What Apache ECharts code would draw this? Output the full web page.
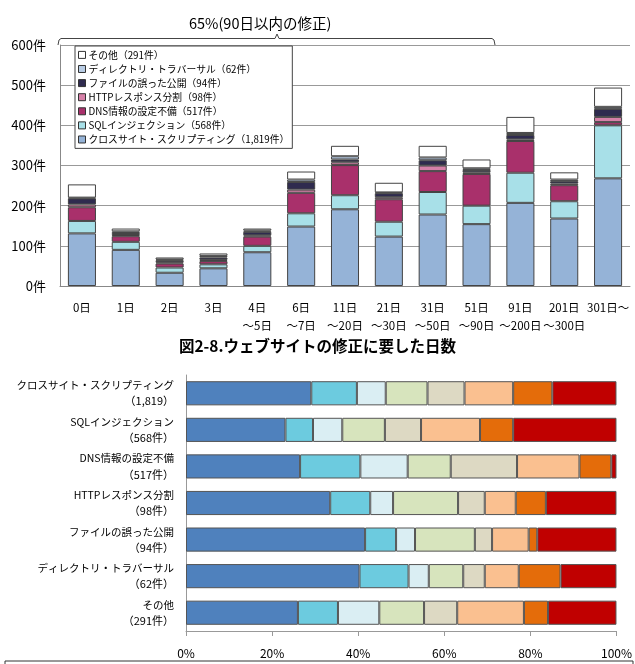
<!DOCTYPE html>
<html lang="ja">
<head>
    <meta charset="UTF-8">
    <title>ウェブサイトの修正に要した日数</title>
    <script src="https://cdn.jsdelivr.net/npm/echarts@6/dist/echarts.min.js"></script>
    <style>
        html,body{margin:0;padding:0;background:#fff;}
        #main{width:635px;height:664px;}
    </style>
</head>
<body>
<div id="main"></div>
<script>
    // 上のグラフ: 修正日数ごとの件数
    var days = ['0日','1日','2日','3日','4日\n～5日','6日\n～7日','11日\n～20日','21日\n～30日','31日\n～50日','51日\n～90日','91日\n～200日','201日\n～300日','301日～'];
    var xss   = [131,90,33,44,84,148,191,123,178,154,207,168,268];
    var sqli  = [31,20,13,10,16,33,35,37,56,46,75,43,132];
    var dns   = [34,14,10,8,23,51,75,56,52,79,79,40,8];
    var http  = [7,3,3,3,3,8,7,5,14,4,4,4,13];
    var file  = [15,5,5,6,9,19,7,10,13,6,11,6,20];
    var dir   = [2,4,2,4,3,6,8,2,7,4,5,4,5];
    var other = [33,7,5,6,5,20,26,24,29,22,40,18,48];
    var topNames = ['クロスサイト・スクリプティング（1,819件）','SQLインジェクション（568件）','DNS情報の設定不備（517件）','HTTPレスポンス分割（98件）','ファイルの誤った公開（94件）','ディレクトリ・トラバーサル（62件）','その他（291件）'];
    var topColors = ['#95b3d7','#a8e0e8','#a9306b','#d680a8','#2f2b4f','#b9cde5','#ffffff'];

    // 下のグラフ: 脆弱性の種類ごとの割合
    var typeNames = ['クロスサイト・スクリプティング','SQLインジェクション','DNS情報の設定不備','HTTPレスポンス分割','ファイルの誤った公開','ディレクトリ・トラバーサル','その他'];
    var typeCounts = ['（1,819）','（568件）','（517件）','（98件）','（94件）','（62件）','（291件）'];
    var seg1 = [29.1,23.1,26.5,33.5,41.6,40.3,26.0];
    var seg2 = [10.6,6.4,14.0,9.3,7.2,11.4,9.3];
    var seg3 = [6.7,6.8,11.0,5.3,4.4,4.7,9.6];
    var seg4 = [9.7,9.9,10.0,15.1,13.9,8.0,10.4];
    var seg5 = [8.6,8.4,15.4,6.2,4.0,5.0,7.7];
    var seg6 = [11.3,13.7,14.5,7.2,8.5,7.9,15.5];
    var seg7 = [9.1,7.7,7.4,7.0,2.0,9.7,5.6];
    var seg8 = [14.9,24.0,1.2,16.4,18.4,13.0,15.9];
    var segNames = ['区分1','区分2','区分3','区分4','区分5','区分6','区分7','区分8'];
    var segColors = ['#4f81bd','#6ccbdf','#daeef3','#d7e4bd','#ddd9c3','#fac090','#e46c0a','#c00000'];

    var font = '"Noto Sans CJK JP", sans-serif';
    var chart = echarts.init(document.getElementById('main'));

    var topData = [xss, sqli, dns, http, file, dir, other];
    var segData = [seg1, seg2, seg3, seg4, seg5, seg6, seg7, seg8];
    var series = [];
    topData.forEach(function(d, i){
        series.push({
            name: topNames[i],
            type: 'bar',
            stack: 'days',
            xAxisIndex: 0,
            yAxisIndex: 0,
            barWidth: '64%',
            data: d,
            itemStyle: {color: topColors[i], borderColor: '#444', borderWidth: 1}
        });
    });
    segData.forEach(function(d, i){
        series.push({
            name: segNames[i],
            type: 'bar',
            stack: 'ratio',
            xAxisIndex: 1,
            yAxisIndex: 1,
            barWidth: '66%',
            data: d,
            itemStyle: {color: segColors[i], borderColor: '#555', borderWidth: 1}
        });
    });

    var option = {
        animation: false,
        textStyle: {fontFamily: font, color: '#000'},
        title: {
            text: '図2-8.ウェブサイトの修正に要した日数',
            left: 'center',
            top: 333,
            textStyle: {fontFamily: font, fontSize: 15.5, fontWeight: 'bold', color: '#000'}
        },
        legend: {
            data: topNames.slice().reverse(),
            orient: 'vertical',
            left: 75,
            top: 46,
            padding: [4, 3, 4, 3],
            itemGap: 4.3,
            itemWidth: 7,
            itemHeight: 7,
            icon: 'rect',
            borderColor: '#444',
            borderWidth: 1,
            backgroundColor: '#fff',
            itemStyle: {borderColor: '#333', borderWidth: 1},
            textStyle: {fontFamily: font, fontSize: 9.8, color: '#000', padding: [0, 0, 0, -2]}
        },
        grid: [
            {left: 60, right: 5, top: 45, height: 241},
            {left: 186, right: 17, top: 375, bottom: 33}
        ],
        xAxis: [
            {
                type: 'category',
                gridIndex: 0,
                data: days,
                axisLine: {lineStyle: {color: '#888'}},
                axisTick: {lineStyle: {color: '#888'}},
                axisLabel: {interval: 0, fontSize: 11.5, lineHeight: 18, margin: 13, color: '#000'}
            },
            {
                type: 'value',
                gridIndex: 1,
                min: 0,
                max: 100,
                interval: 20,
                splitLine: {show: false},
                axisLine: {show: true, lineStyle: {color: '#999'}},
                axisTick: {show: true, lineStyle: {color: '#999'}},
                axisLabel: {formatter: '{value}%', fontSize: 12, margin: 16, color: '#000'}
            }
        ],
        yAxis: [
            {
                type: 'value',
                gridIndex: 0,
                min: 0,
                max: 600,
                interval: 100,
                axisLine: {show: true, lineStyle: {color: '#888'}},
                axisTick: {show: false},
                splitLine: {lineStyle: {color: '#999'}},
                axisLabel: {formatter: '{value}件', fontSize: 13, margin: 14, color: '#000'}
            },
            {
                type: 'category',
                gridIndex: 1,
                inverse: true,
                data: typeNames,
                axisLine: {lineStyle: {color: '#999'}},
                axisTick: {lineStyle: {color: '#999'}},
                axisLabel: {
                    margin: 12,
                    color: '#000',
                    formatter: function(v, i){ return '{a|' + v + '}\n{b|' + typeCounts[i] + '}'; },
                    rich: {
                        a: {fontSize: 10.5, lineHeight: 16, fontFamily: font, color: '#000'},
                        b: {fontSize: 11, lineHeight: 16, fontFamily: font, color: '#000'}
                    }
                }
            }
        ],
        graphic: [
            {
                type: 'text',
                left: 189,
                top: 16,
                style: {text: '65%(90日以内の修正)', font: '14.5px ' + font, fill: '#000'}
            },
            {
                type: 'polyline',
                shape: {points: [[58, 45], [59, 40], [61, 38.5], [275, 38.5], [277, 34], [279, 38.5], [492, 38.5], [494, 40], [495, 45]]},
                style: {stroke: '#444', lineWidth: 1, fill: null}
            },
            {
                type: 'rect',
                shape: {x: 5, y: 661, width: 628, height: 20},
                style: {stroke: '#333', lineWidth: 1, fill: '#fff'}
            }
        ],
        series: series
    };
    chart.setOption(option);
</script>
</body>
</html>
